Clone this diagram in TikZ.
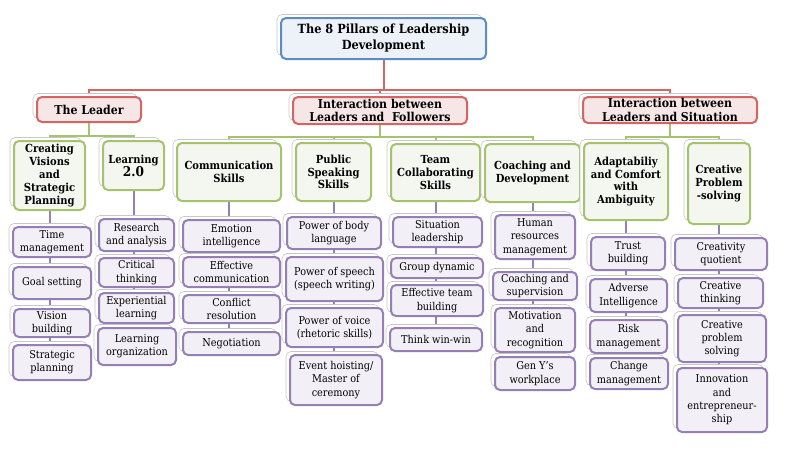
\documentclass[tikz,border=0pt]{standalone}
\usepackage{fontspec}
\setmainfont{DejaVu Serif Condensed}
\usetikzlibrary{shadows}
\definecolor{tblue}{HTML}{5B8CC4}
\definecolor{tfill}{HTML}{EDF2F8}
\definecolor{rcol}{HTML}{D46565}
\definecolor{rfill}{HTML}{F6E6E6}
\definecolor{gcol}{HTML}{A5C36E}
\definecolor{gfill}{HTML}{F4F6F0}
\definecolor{pcol}{HTML}{9580B5}
\definecolor{pfill}{HTML}{F2F0F6}
\pgfdeclarelayer{back}
\pgfdeclarelayer{bg}
\pgfsetlayers{back,bg,main}
\newcommand\mybox[7]{\node[#1, minimum width={(#5-#3)*1pt}, minimum height={(#6-#4)*1pt}] (#2) at ({(#3+#5)/2},{(#4+#6)/2}) {#7};}
\tikzset{
  basebox/.style={rounded corners=5pt, line width=2pt, align=center, inner sep=1pt,
    copy shadow={shadow xshift=-4pt, shadow yshift=3.5pt, fill=white, draw=black!22, line width=0.6pt}},
  ttlbox/.style={basebox, draw=tblue, fill=tfill, font=\bfseries\fontsize{12.6}{16}\selectfont},
  onebox/.style={basebox, draw=rcol, fill=rfill, font=\bfseries\fontsize{12.2}{13.6}\selectfont},
  twobox/.style={basebox, draw=gcol, fill=gfill, font=\bfseries\fontsize{11.1}{12.8}\selectfont},
  leafbox/.style={basebox, draw=pcol, fill=pfill, font=\fontsize{10.8}{13.3}\selectfont},
  rline/.style={draw=rcol, line width=2pt},
  gline/.style={draw=gcol, line width=2pt},
  pline/.style={draw=pcol, line width=2pt},
}
\begin{document}
\begin{tikzpicture}[x=1pt,y=-1pt]
\begin{pgfonlayer}{back}
\fill[white] (0,0) rectangle (785,450);
\end{pgfonlayer}
\useasboundingbox (0,0) rectangle (785,450);
% title and level 1
\mybox{ttlbox}{title}{281}{18}{486}{59}{The 8 Pillars of Leadership\\Development}
\mybox{onebox}{leader}{37}{97}{141}{122}{The Leader}
\mybox{onebox}{foll}{293}{97}{467}{124}{Interaction between\\Leaders and\ \ Followers}
\mybox{onebox}{sit}{583}{97}{757}{123}{Interaction between\\Leaders and Situation}
% level 2
\mybox{twobox}{cv}{14}{141}{85}{210}{Creating\\Visions\\and\\Strategic\\Planning}
\mybox{twobox}{learn}{103}{141}{164}{190}{Learning\\{\fontsize{13.5}{16}\selectfont 2.0}}
\mybox{twobox}{comm}{177}{143}{281}{201}{Communication\\Skills}
\mybox{twobox}{pub}{296}{143}{371}{201}{Public\\Speaking\\Skills}
\mybox{twobox}{team}{391}{144}{480}{201}{Team\\Collaborating\\Skills}
\mybox{twobox}{coach}{485}{144}{580}{202}{Coaching and\\Development}
\mybox{twobox}{adapt}{584}{143}{668}{220}{Adaptabiliy\\and Comfort\\with\\Ambiguity}
\mybox{twobox}{crea}{688}{143}{750}{224}{Creative\\Problem\\-solving}
% leaves: creating visions
\mybox{leafbox}{tm}{13}{227}{91}{257}{Time\\management}
\mybox{leafbox}{gs}{13}{267}{91}{299}{Goal setting}
\mybox{leafbox}{vb}{14}{309}{90}{337}{Vision\\building}
\mybox{leafbox}{sp}{13}{345}{91}{380}{Strategic\\planning}
% learning
\mybox{leafbox}{ra}{99}{219}{174}{251}{Research\\and analysis}
\mybox{leafbox}{ct}{99}{258}{174}{287}{Critical\\thinking}
\mybox{leafbox}{el}{99}{293}{174}{323}{Experiential\\learning}
\mybox{leafbox}{lo}{98}{328}{176}{365}{Learning\\organization}
% communication
\mybox{leafbox}{ei}{183}{220}{280}{252}{Emotion\\intelligence}
\mybox{leafbox}{ec}{183}{257}{280}{287}{Effective\\communication}
\mybox{leafbox}{cr}{183}{295}{280}{323}{Conflict\\resolution}
\mybox{leafbox}{ng}{183}{332}{280}{355}{Negotiation}
% public speaking
\mybox{leafbox}{pb}{287}{217}{381}{249}{Power of body\\language}
\mybox{leafbox}{ps}{286}{257}{383}{301}{Power of speech\\(speech writing)}
\mybox{leafbox}{pv}{286}{308}{383}{347}{Power of voice\\(rhetoric skills)}
\mybox{leafbox}{eh}{290}{355}{382}{405}{Event hoisting/\\Master of\\ceremony}
% team
\mybox{leafbox}{sl}{393}{217}{482}{247}{Situation\\leadership}
\mybox{leafbox}{gd}{391}{258}{483}{278}{Group dynamic}
\mybox{leafbox}{et}{391}{285}{483}{316}{Effective team\\building}
\mybox{leafbox}{tw}{390}{328}{482}{351}{Think win-win}
% coaching
\mybox{leafbox}{hr}{495}{215}{575}{259}{Human\\resources\\management}
\mybox{leafbox}{cs}{493}{272}{577}{300}{Coaching and\\supervision}
\mybox{leafbox}{mr}{495}{308}{575}{352}{Motivation\\and\\recognition}
\mybox{leafbox}{gy}{495}{357}{575}{390}{Gen Y's\\workplace}
% adaptability
\mybox{leafbox}{tb}{591}{237}{665}{270}{Trust\\building}
\mybox{leafbox}{ai}{590}{279}{667}{312}{Adverse\\Intelligence}
\mybox{leafbox}{rm}{590}{320}{667}{353}{Risk\\management}
\mybox{leafbox}{cm}{590}{358}{668}{389}{Change\\management}
% creative
\mybox{leafbox}{cq}{675}{238}{767}{270}{Creativity\\quotient}
\mybox{leafbox}{cth}{678}{278}{763}{308}{Creative\\thinking}
\mybox{leafbox}{cps}{678}{315}{766}{362}{Creative\\problem\\solving}
\mybox{leafbox}{ie}{677}{368}{767}{432}{Innovation\\and\\entrepreneur-\\ship}
% connectors
\begin{pgfonlayer}{bg}
\coordinate (rb) at (0,89.5);
\draw[rline] (title.south) -- (title.south |- rb);
\draw[rline] (leader.north) |- (sit.north |- rb) -- (sit.north);
\draw[rline] (foll.north) -- (foll.north |- rb);
\coordinate (gb1) at (0,135.5);
\coordinate (gb2) at (0,137);
\draw[gline] (leader.south) -- (leader.south |- gb1);
\draw[gline] (cv.north) |- (learn.north |- gb1) -- (learn.north);
\draw[gline] (foll.south) -- (foll.south |- gb2);
\draw[gline] (comm.north) |- (coach.north |- gb2) -- (coach.north);
\draw[gline] (pub.north) -- (pub.north |- gb2);
\draw[gline] (team.north) -- (team.north |- gb2);
\draw[gline] (sit.south) -- (sit.south |- gb2);
\draw[gline] (adapt.north) |- (crea.north |- gb2) -- (crea.north);
\draw[pline] (cv.south) -- (cv.south |- sp.north);
\draw[pline] (learn.south) -- (learn.south |- lo.north);
\draw[pline] (comm.south) -- (comm.south |- ng.north);
\draw[pline] (pub.south) -- (pub.south |- eh.north);
\draw[pline] (team.south) -- (team.south |- tw.north);
\draw[pline] (coach.south) -- (coach.south |- gy.north);
\draw[pline] (adapt.south) -- (adapt.south |- cm.north);
\draw[pline] (crea.south) -- (crea.south |- ie.north);
\end{pgfonlayer}
\end{tikzpicture}
\end{document}
